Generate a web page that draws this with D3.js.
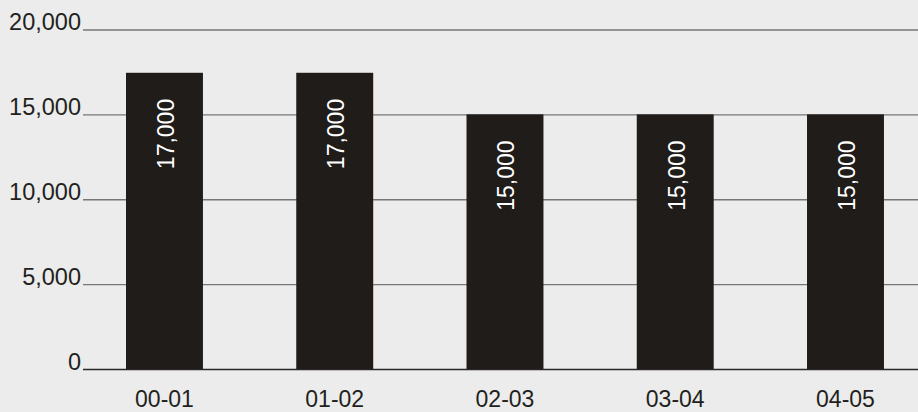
<!DOCTYPE html>
<html>
<head>
<meta charset="utf-8">
<script src="https://cdn.jsdelivr.net/npm/d3@7"></script>
<style>
html,body{margin:0;padding:0;background:#ebeceb;}
svg{display:block;}
text{font-family:"Liberation Sans",Arial,Helvetica,sans-serif;}
</style>
</head>
<body>
<svg id="chart" width="918" height="412"></svg>
<script>
const categories = ["00-01", "01-02", "02-03", "03-04", "04-05"];
const barValues = [17450, 17450, 15000, 15000, 15000];
const barLabels = ["17,000", "17,000", "15,000", "15,000", "15,000"];
const yTicks = [0, 5000, 10000, 15000, 20000];

const W = 918, H = 412;
const svg = d3.select("#chart");
svg.append("rect").attr("width", W).attr("height", H).attr("fill", "#ebeceb");

const y = d3.scaleLinear().domain([0, 20000]).range([369, 29.5]);
const step = 170.25;
const pIn = 0.548, pOut = pIn / 2;
const x0 = 126 - pOut * step;
const x = d3.scaleBand().domain(categories)
  .range([x0, x0 + step * categories.length])
  .paddingInner(pIn).paddingOuter(pOut);

const fmt = d3.format(",");

// gridlines + y labels via axis
const yAxis = d3.axisLeft(y).tickValues(yTicks).tickFormat(fmt).tickSize(-(W - 83)).tickPadding(0);
const gy = svg.append("g").attr("transform", "translate(83,0)").call(yAxis);
gy.select(".domain").remove();
gy.selectAll(".tick line")
  .attr("stroke", d => d === 0 ? "#2a2627" : "#777777")
  .attr("stroke-width", d => d === 0 ? 1.6 : 1.4);
gy.selectAll(".tick text")
  .attr("x", -2).attr("dy", 0)
  .attr("fill", "#231f20")
  .style("font-size", "23.5px");

// bars
svg.append("g").selectAll("rect").data(categories).join("rect")
  .attr("x", d => x(d))
  .attr("width", x.bandwidth())
  .attr("y", (d, i) => y(barValues[i]))
  .attr("height", (d, i) => y(0) - y(barValues[i]))
  .attr("fill", "#201c1a");

// bar labels (rotated)
svg.append("g").selectAll("text").data(categories).join("text")
  .attr("transform", (d, i) => `translate(${x(d) + x.bandwidth() / 2 + 9.5},${y(barValues[i]) + 26}) rotate(-90)`)
  .attr("text-anchor", "end")
  .attr("fill", "#ffffff")
  .style("font-size", "23px")
  .text((d, i) => barLabels[i]);

// x axis labels
const xAxis = d3.axisBottom(x).tickSize(0).tickPadding(0);
const gx = svg.append("g").attr("transform", "translate(0,369)").call(xAxis);
gx.select(".domain").remove();
gx.selectAll(".tick text")
  .attr("y", 38).attr("dy", 0)
  .attr("fill", "#231f20")
  .style("font-size", "23px");
</script>
</body>
</html>
